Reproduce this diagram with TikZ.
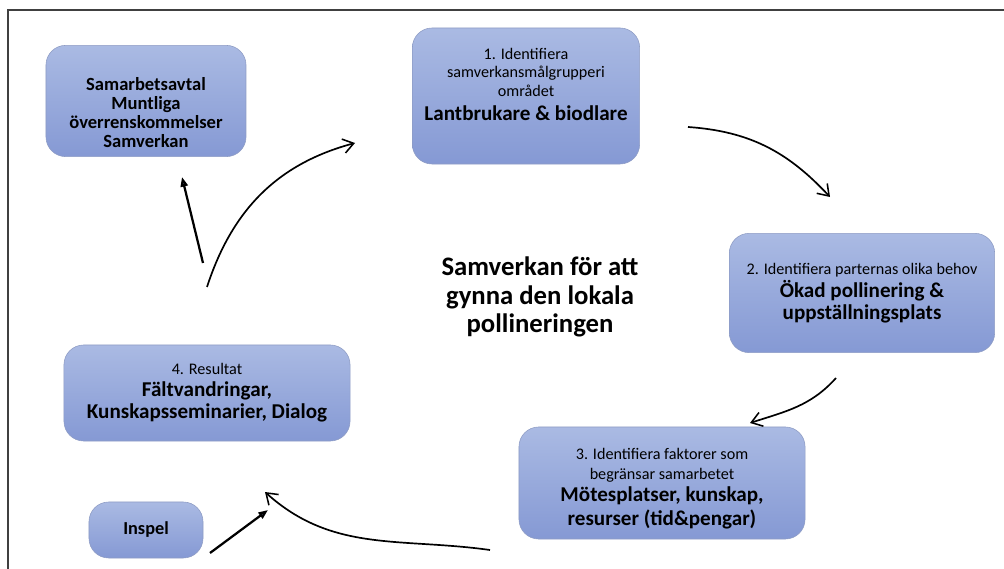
\documentclass[tikz,border=0pt]{standalone}
\usepackage{fontspec}
\setmainfont{Carlito}
\usepackage{tikz}
\usetikzlibrary{arrows.meta, positioning}

\definecolor{boxtop}{HTML}{AABAE3}
\definecolor{boxbot}{HTML}{8599D4}
\definecolor{boxline}{HTML}{8E9CC4}
\definecolor{framegray}{HTML}{404040}

\newcommand{\bigtxt}[1]{{\fontsize{15}{15.6}\selectfont\bfseries #1}}

\begin{document}
\begin{tikzpicture}[
      x=0.025cm, y=0.025cm,
      stepbox/.style={rectangle, draw=boxline, rounded corners=14pt, top color=boxtop, bottom color=boxbot, align=center, inner sep=2pt, font=\fontsize{11.5}{13.2}\selectfont},
      flow/.style={-{Straight Barb[length=2.6mm, width=3.6mm, line width=1.1pt]}, line width=1.2pt},
      push/.style={-{Triangle[length=2.4mm, width=1.8mm, fill=boxbot]}, line width=1.6pt},
      every node/.style={text=black}
    ]
      \useasboundingbox (0,0) rectangle (1004,-569);
      \draw[framegray, line width=0.8pt] (8,-569) -- (8,-10) -- (1004,-10);

      % boxes
      \node[stepbox, minimum width=5cm, minimum height=2.78cm, font=\fontsize{13.2}{13.5}\selectfont\bfseries] (avtal) at (146,-101)
        {\rule{0pt}{26pt}Samarbetsavtal\\Muntliga\\överrenskommelser\\Samverkan};
      \node[stepbox, minimum width=5.68cm, minimum height=3.4cm] (steg1) at (526,-96)
        {1. Identifiera\\samverkansmålgrupperi\\området\\[4pt]\bigtxt{Lantbrukare \& biodlare}\rule[-17pt]{0pt}{0pt}};
      \node[stepbox, minimum width=6.63cm, minimum height=2.98cm] (steg2) at (862,-293)
        {2. Identifiera parternas olika behov\\[1pt]\bigtxt{Ökad pollinering \&}\\[2.5pt]\bigtxt{uppställningsplats}};
      \node[stepbox, minimum width=7.15cm, minimum height=2.8cm] (steg3) at (662,-483)
        {\rule{0pt}{16pt}3. Identifiera faktorer som\\[1pt]begränsar samarbetet\\[3pt]\bigtxt{Mötesplatser, kunskap,}\\[2.5pt]\bigtxt{resurser (tid\&pengar)}};
      \node[stepbox, minimum width=7.15cm, minimum height=2.4cm] (steg4) at (207,-393)
        {4. Resultat\\[2.5pt]\bigtxt{Fältvandringar,}\\[2.5pt]\bigtxt{Kunskapsseminarier, Dialog}};
      \node[stepbox, minimum width=2.85cm, minimum height=1.4cm, font=\fontsize{13}{14}\selectfont\bfseries] (inspel) at (146,-530) {Inspel};

      \node[align=center, font=\fontsize{19}{20.3}\selectfont\bfseries] (mitt) at (540,-297)
        {Samverkan för att\\gynna den lokala\\pollineringen};

      % connector ends
      \coordinate (p4a) at (207,-287);
      \coordinate (p4b) at (355,-143);
      \coordinate (p1a) at (688,-127);
      \coordinate (p1b) at (830,-197);
      \coordinate (p2a) at (836,-378);
      \coordinate (p2b) at (750,-423);
      \coordinate (p3a) at (490,-550);
      \coordinate (p3b) at (265,-492);
      \coordinate (pava) at (203,-263);
      \coordinate (pavb) at (182,-177);
      \coordinate (pina) at (210,-553);
      \coordinate (pinb) at (268,-510);

      \draw[flow] (p4a) to[out=72, in=195] (p4b);
      \draw[flow] (p1a) to[out=-4, in=133] (p1b);
      \draw[flow] (p2a) to[out=-132, in=18] (p2b);
      \draw[flow] (p3a) to[out=172, in=-42] (p3b);
      \draw[push] (pava) -- (pavb);
      \draw[push] (pina) -- (pinb);
    \end{tikzpicture}
\end{document}
